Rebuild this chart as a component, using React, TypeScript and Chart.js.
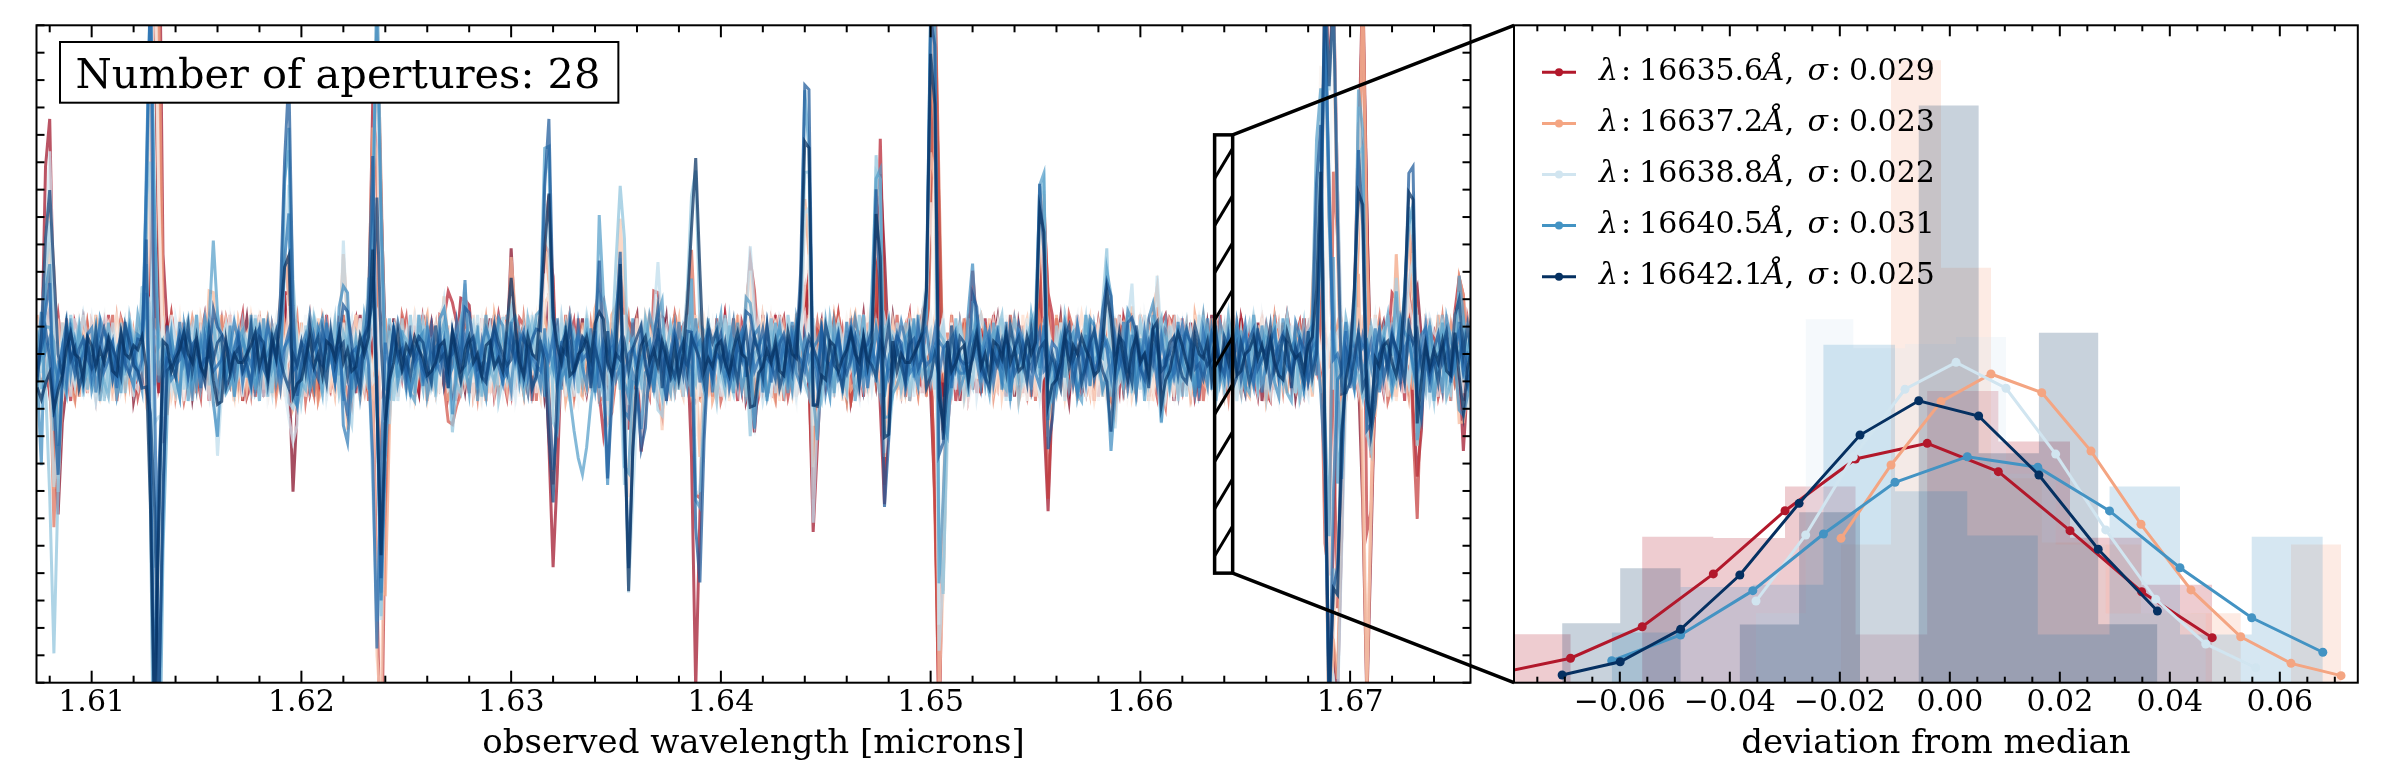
import React, { useEffect, useRef } from "react";
import { Chart, registerables } from "chart.js";

Chart.register(...registerables);

const FONT = "'DejaVu Serif', 'Liberation Serif', serif";

// ---------------- Left panel: residual spectra of the apertures ----------------
const WL_START = 1.6074; // microns, first pixel
const WL_STEP = 0.0002; // microns per pixel
const N_PIX = 343;
const N_APERTURES = 28;
const LEFT_X_MIN = 1.60737;
const LEFT_X_MAX = 1.67574;
const LEFT_Y_MIN = -0.6;
const LEFT_Y_MAX = 0.6;
const LEFT_X_TICKS = [1.61, 1.62, 1.63, 1.64, 1.65, 1.66, 1.67];
const ZOOM_WL = [1.66354, 1.6644];
const ZOOM_RESID = [-0.4, 0.4];
const APERTURE_LABEL = "Number of apertures: 28";
const LEFT_TITLE = "observed wavelength [microns]";

// hand-estimated pixel noise (letter 'i' = 0, one letter step = NOISE_UNIT)
const NOISE_UNIT = 0.013;
const NOISE_BANK = [
  "hkfjmdiglein khcjmfgkje lhgnidkfhm jelgichkfm hjdlgiejnh fkcmiglhje kfingdljhk meigfjhldg jkenhifmcj glhkeijgmh djlkfinehg jldkmfihjc gkmelfhind jgkelihfkj dmhgilejnf hkcjgmiehl kdjfnighme jkclhfg",
  "jgemhkdiln fhjcgkmieh ljdgnkfhim ejgklchfin dhmjegilkf hdjmgiekhl cfjnhgdkmi ejlhfgknjd imgehlcjkf ndhgimjekl fhdgjmkiel hgcjnfdkhm iljegkhfdn jmigelkchj fmdhkgnije lhjfdkgmch ilejnkfgdh m",
  "kfhdjmglie nhjcfkgmdi ljhenkgfci mjdlhgekin fjgdmhklce ijfhnglkdj mhecigkfnj lhdmgjkeif clnhjdgkmi fhejlkgdnh icmjfgklhe djnkighmfl jcekhdgmji nfhlkcjgdm eihkfjlngd hmcjgeikfl jhdnkmg",
  "giknfjdmhl egjkchmfid lkhngjefmi dkhjlcgnfk imjhdegklf nhcjmgidkl fhejnkgdmi hlcjfkgnde ijmhkflgdc njhiekmgjf lhdkcingjm ehfklgdjni hcmkfjgled nihkjmfgdc lkehjnigmf dkhjcleig",
  "lhdjkfmgie cnhjkgdlmf iehkjcngdl fmihekjdgn lkhcfjmigd nkhejglfcm idhjnkfgle mchkijdgnf lehjkmcgid flnhjekgmd ichljfkngm ehdjiklcfg nmhdjegkil fcjhnmgdke ilhfkcjgnd mehkj",
  "fjlhdmkgie nchjgklfdm ihejnkgcfl dmhjkiegnf lchdjmkgie fnhlkjcgdm ihekfnjlgd mchkijegfn ldhjkcmgie fnhdljkgmc ihejnfkgdl mchijkegnf dlhjkmcgie fnhljdkgmi chejnkfgdl mhikjcegf",
];
const NOISE_OFFSET = [0, 37, 71, 113, 19, 151, 88, 127, 54, 9, 166, 93, 31, 142, 66, 105, 172, 13, 79, 121, 46, 158, 24, 97, 135, 61, 3, 110];
const NOISE_AMP = [1.0, 1.1, 1.0, 1.1, 1.0, 1.1, 1.0, 1.0, 1.1, 1.0, 1.0, 1.1, 1.0, 1.0, 1.1, 1.0, 1.0, 1.1, 1.0, 1.1, 1.0, 1.1, 1.0, 0.9, 0.8, 0.7, 0.8, 0.6];

// spectral-line residuals: [pixel, amplitude per aperture]  ('.'=0, A..Z = +0.025..+0.65, a..z negative)
// groups: 7 red | 5 peach | 4 white | 4 light blue | 4 mid blue | 4 dark blue
const FEATURES: [number, string][] = [
  [1, "....... ..... .... .c.. d.e. ...c"],
  [2, "..D.B.. B.C.. .... B.C. .B.C ..B."],
  [3, "E.S.H.F J.F.G .E.D N.H. F.J. H.L."],
  [4, "..f.h.n .g... ..d. .h.w h.f. f..e"],
  [5, ".n...e. ..f.. .... ..h. .e.. .g.."],
  [26, "...B..C .C... .... .D.E .F.D .H.."],
  [27, ".D.I.K. .H.N. .E.. P.Z. Z.Z. Z.f."],
  [28, "Z.Z.Z.Z .Z.Z. .Z.. z.z. .z.z .z.z"],
  [29, "..Z.M.. .Q... .... .d.. .z.. z.w."],
  [30, "f...e.. .d... .... ..c. .d.. ..b."],
  [42, "....D.. ..E.. .... ..E. .F.. .D.."],
  [43, "..c.... ...d. .... .d.. ..e. ...d"],
  [59, "..B..B. .C.C. ..B. .C.D .E.D .G.D"],
  [60, ".G.H.F. .H.F. .E.. .J.O .P.L .R.I"],
  [61, ".n...e. .f... .e.. i.e. .h.f .d.g"],
  [73, "..D.... .E... .... .F.. ..F. .E.."],
  [74, "....d.. ..e.. .... ..e. ...f d..."],
  [80, "..F.D.. .E.D. .D.. .F.H .J.H .M.G"],
  [81, "Z.Z.h.Z .Z.s. .Z.. Z.s. Z.Z. s.K."],
  [82, "..z.z.. .z.r. .q.. .t.r .r.r .p.o"],
  [83, "...e... .f... .... ..f. ..e. ..d."],
  [98, "...H... ..D.. .... .D.. ..C. ...."],
  [99, ".....h. ..e.. .... ...d ..c. ...."],
  [102, "..E.... ...D. .... .D.. ...D .C.."],
  [113, ".F..... ..E.. .... ..D. .D.. ...D"],
  [121, "...D.E. .E... .D.. .F.G .H.. .G.F"],
  [122, ".E.G.I. .I.H. .F.. .K.N .S.. .N.I"],
  [123, "..n.i.. .i.h. .g.. .h.j .i.h ..j."],
  [134, "..C.... .D.D. .C.. .D.E .I.. .E.D"],
  [136, "...f.e. ..g.. .e.. .f.. ..h. .h.."],
  [139, "..D.E.. .F.E. .D.. .G.N .K.. .F.E"],
  [140, ".F.d.G. .e.G. .e.. ..h. .f.. ...."],
  [141, "..e..f. .e.f. .f.. .r.. .h.g .p.q"],
  [144, "..d.... ..c.. .... .e.. ..f. .h.."],
  [148, ".D..E.. ..D.. .... .E.. .D.. .E.."],
  [149, "..d...c ...d. .... ..e. ..d. .d.."],
  [156, "...D..E .D.E. .D.. .E.F .G.. .F.E"],
  [157, "..x.e.. .g.e. .e.. .f.K .h.. .k.L"],
  [158, ".f..h.. ..g.. .... .g.. .h.. .m.."],
  [170, "....I.. .E... .D.. .E.f .F.. .E.."],
  [171, ".d.e... ..d.. .... ..f. ..g. ...e"],
  [183, "..D.E.. .F.E. .E.. .G.H .J.. .L.J"],
  [184, ".F.I.G. .I.H. .G.. .K.P .P.. .T.M"],
  [185, "..m.h.. .i.g. .g.. .o.i .j.. .k.h"],
  [200, "..E.F.. .G.F. .E.. .G.H .H.. .G.F"],
  [201, ".L.N.I. .J.I. .G.. .M.L .L.. .H.I"],
  [202, "..l.h.. .i.h. .f.. .i.k .j.. .n.j"],
  [213, "..H.J.. .K.J. .I.. .L.M .O.. .P.N"],
  [214, "Z.Z.J.Z .Z.Q. .M.. .Z.Z .Z.. .W.S"],
  [215, ".z.z.z. .z.z. .z.. .z.v .z.. .r.l"],
  [216, "..f.g.. .g.f. .... .h.g ..g. ..e."],
  [223, "..D..E. .D... .... .E.. ..D. .D.."],
  [239, "..D.F.. .F.E. .E.. .G.H .I.. .G.F"],
  [240, ".G.N.J. .K.J. .H.. .K.N .N.. .I.J"],
  [241, "..l.i.. .j.i. .g.. .i.j .k.. .l.h"],
  [255, "..C.D.. .F.D. .C.. .E.F .E.. .F.D"],
  [256, ".d..e.. .g... .... .e.. ..e. ..d."],
  [261, "...C... ..D.. .... .D.. ..D. .C.."],
  [267, "...D.E. .F.D. .... .D.. ..D. ...C"],
  [268, "..e..d. ..f.. .... ..d. ..d. ...d"],
  [305, "...C.D. .D... .D.. .E.. .F.. .E.."],
  [306, ".H.K..L .N.J. .H.. .L.O .Q.. .N.M"],
  [307, "Z.Z.Z.. Z.Z.. .Z.. Z.Z. Z.Z. Z.Z."],
  [308, ".z.z.z. .z.z. .z.. .z.z .z.z .z.z"],
  [309, "..Z..Z. ..Z.. ..Z. ..Z. .Z.. ..Z."],
  [310, ".z..q.. .z.q. .... .z.p .q.. .q.p"],
  [311, "...e.f. ..g.. .... .e.. ..f. ..e."],
  [315, "..E.F.. .G.F. .E.. .H.I .J.. .I.H"],
  [316, "Z.Z.Z.. Z.Z.. .P.. .R.N .S.. .L.K"],
  [317, ".z..z.. .z.z. .j.. .l.l .k.. .j.i"],
  [318, "..f..g. ..f.. .... ..f. ..e. ..e."],
  [324, "...D... .E... .... ..D. .D.. ...."],
  [327, "..C.D.. .D.D. .C.. .E.F .F.. .H.G"],
  [328, ".E.F.G. .I.G. .F.. .G.I .J.. .M.L"],
  [329, "..j.k.. .h.g. .f.. .g.h .h.. .i.h"],
  [339, "...E.E. .E... .D.. ..D. .D.. ..D."],
  [340, "..e.... ..f.. .... .d.. ..e. ...d"],
];
// relative line-profile weight at pixel offsets -1, 0, +1
const LINE_PROFILE = [0.4, 1, 0.4];
const DIP_APERTURE = 21;
const DIP_START = 126;
const DIP_VALUES = [-0.03, -0.08, -0.14, -0.19, -0.22, -0.17, -0.09, -0.03];

// ---------------- Right panel: deviation histograms ----------------
const N_HIST = 28;
const HIST_WAVELENGTHS = ["16635.6", "16637.2", "16638.8", "16640.5", "16642.1"];
const HIST_SIGMAS = ["0.029", "0.023", "0.022", "0.031", "0.025"];
const EDGES_1 = [-0.08196, -0.06896, -0.05593, -0.043, -0.02996, -0.01715, -0.00411, 0.00882, 0.02185, 0.03487, 0.04771];
const COUNTS_1 = [1, 0, 3, 3, 4, 1, 6, 5, 3, 2];
const CURVE_1 = [0.55, 1.39, 3.18, 6.18, 9.77, 12.71, 13.6, 11.99, 8.64, 5.17, 2.56];
const EDGES_2 = [-0.01978, -0.01069, -0.0016, 0.00749, 0.01671, 0.02567, 0.03476, 0.04385, 0.05289, 0.06204, 0.07113];
const COUNTS_2 = [2, 9, 6, 3, 2, 2, 1, 1, 0, 2];
const CURVE_2 = [8.2, 12.37, 15.97, 17.54, 16.48, 13.16, 9.0, 5.27, 2.61, 1.1, 0.4];
const EDGES_3 = [-0.03524, -0.0262, -0.01755, -0.00815, 0.00113, 0.01022, 0.01925, 0.02835, 0.03744, 0.04653, 0.05562];
const COUNTS_3 = [1, 5, 5, 5, 5, 3, 2, 1, 1, 0];
const CURVE_3 = [4.64, 8.39, 12.84, 16.67, 18.2, 16.73, 12.99, 8.68, 4.74, 2.2, 0.85];
const EDGES_4 = [-0.06147, -0.04895, -0.03582, -0.02298, -0.00996, 0.00318, 0.016, 0.02904, 0.04185, 0.05489, 0.06782];
const COUNTS_4 = [1, 2, 2, 7, 4, 3, 1, 4, 1, 3];
const CURVE_4 = [1.25, 2.71, 5.23, 8.45, 11.39, 12.84, 12.24, 9.76, 6.53, 3.69, 1.73];
const EDGES_5 = [-0.07049, -0.05993, -0.04895, -0.03818, -0.0274, -0.01633, -0.00565, 0.00524, 0.0162, 0.02698, 0.03775];
const COUNTS_5 = [1, 2, 0, 1, 3, 0, 10, 4, 6, 1];
const CURVE_5 = [0.44, 1.19, 3.03, 6.12, 10.19, 14.07, 16.02, 15.15, 11.8, 7.58, 4.07];
const RIGHT_X_MIN = -0.07924;
const RIGHT_X_MAX = 0.07418;
const RIGHT_Y_MAX = 37.35;
const RIGHT_X_TICKS = [-0.06, -0.04, -0.02, 0.0, 0.02, 0.04, 0.06];
const RIGHT_TITLE = "deviation from median";

// ---------------- styling helpers ----------------
const RDBU = ["#67001f", "#b2182b", "#d6604d", "#f4a582", "#fddbc7", "#f7f7f7", "#d1e5f0", "#92c5de", "#4393c3", "#2166ac", "#053061"];
const HIST_COLORS = ["#b2182b", "#f4a582", "#d1e5f0", "#4393c3", "#053061"];
const RIGHT_CANVAS_LEFT = 1500;

function hexRgb(h: string) {
  return [parseInt(h.slice(1, 3), 16), parseInt(h.slice(3, 5), 16), parseInt(h.slice(5, 7), 16)];
}
function rdbu(t: number) {
  const p = Math.max(0, Math.min(1, t)) * 10;
  const i = Math.min(9, Math.floor(p));
  const f = p - i;
  const a = hexRgb(RDBU[i]);
  const b = hexRgb(RDBU[i + 1]);
  return [0, 1, 2].map((c) => Math.round(a[c] + (b[c] - a[c]) * f));
}
function rgba(c: number[], a: number) {
  return `rgba(${c[0]},${c[1]},${c[2]},${a})`;
}
function ampOf(ch: string) {
  if (ch === ".") return 0;
  const code = ch.charCodeAt(0);
  if (code >= 65 && code <= 90) return (code - 64) * 0.025;
  return -(code - 96) * 0.025;
}

function buildSpectra() {
  const wl: number[] = [];
  for (let k = 0; k < N_PIX; k++) wl.push(WL_START + k * WL_STEP);
  const bank = NOISE_BANK.map((s) => s.replace(/\s/g, ""));
  const spectra: number[][] = [];
  for (let i = 0; i < N_APERTURES; i++) {
    const b = bank[i % bank.length];
    const vals: number[] = [];
    for (let k = 0; k < N_PIX; k++) {
      const ch = b.charCodeAt((k + NOISE_OFFSET[i]) % b.length);
      vals.push((ch - 105) * NOISE_UNIT * NOISE_AMP[i]);
    }
    spectra.push(vals);
  }
  for (const [k, s] of FEATURES) {
    const str = s.replace(/\s/g, "");
    for (let i = 0; i < N_APERTURES; i++) {
      const amp = ampOf(str[i] || ".");
      if (!amp) continue;
      LINE_PROFILE.forEach((wgt, d) => {
        const kk = k + d - 1;
        if (kk >= 0 && kk < N_PIX) spectra[i][kk] += amp * wgt;
      });
    }
  }
  DIP_VALUES.forEach((v, j) => {
    spectra[DIP_APERTURE][DIP_START + j] = v;
  });
  return { wl, spectra };
}

function drawTick(ctx: CanvasRenderingContext2D, x: number, y: number, dx: number, dy: number) {
  ctx.beginPath();
  ctx.moveTo(x, y);
  ctx.lineTo(x + dx, y + dy);
  ctx.stroke();
}

export default function App() {
  const leftRef = useRef<HTMLCanvasElement>(null);
  const rightRef = useRef<HTMLCanvasElement>(null);

  useEffect(() => {
    if (!leftRef.current || !rightRef.current) return;

    // ---------- right chart ----------
    const histEdges = [EDGES_1, EDGES_2, EDGES_3, EDGES_4, EDGES_5];
    const histCounts = [COUNTS_1, COUNTS_2, COUNTS_3, COUNTS_4, COUNTS_5];
    const histCurves = [CURVE_1, CURVE_2, CURVE_3, CURVE_4, CURVE_5];
    const rightDatasets: any[] = [];
    histEdges.forEach((edges, s) => {
      const dens = histCounts[s].map((c, j) => c / (N_HIST * (edges[j + 1] - edges[j])));
      const pts = dens.map((h, j) => ({ x: edges[j], y: h }));
      pts.push({ x: edges[edges.length - 1], y: dens[dens.length - 1] });
      rightDatasets.push({
        label: "hist " + HIST_WAVELENGTHS[s],
        data: pts,
        stepped: "before",
        fill: "origin",
        backgroundColor: rgba(hexRgb(HIST_COLORS[s]), 0.22),
        borderColor: "rgba(0,0,0,0)",
        borderWidth: 0,
        pointRadius: 0,
        order: 10 + (4 - s),
      });
    });
    histEdges.forEach((edges, s) => {
      rightDatasets.push({
        label: HIST_WAVELENGTHS[s],
        data: edges.map((e, j) => ({ x: e, y: histCurves[s][j] })),
        borderColor: HIST_COLORS[s],
        backgroundColor: HIST_COLORS[s],
        borderWidth: 3,
        pointRadius: 4.5,
        pointBorderWidth: 0,
        pointBackgroundColor: HIST_COLORS[s],
        fill: false,
        order: 4 - s,
      });
    });

    const rightDecor = {
      id: "rightDecor",
      afterDatasetsDraw(chart: any) {
        const { ctx, chartArea: a, scales } = chart;
        const x = scales.x;
        ctx.save();
        ctx.strokeStyle = "#000";
        ctx.lineWidth = 2;
        for (const v of RIGHT_X_TICKS) {
          const px = x.getPixelForValue(v);
          drawTick(ctx, px, a.bottom, 0, -11);
          drawTick(ctx, px, a.top, 0, 11);
        }
        for (let m = Math.ceil(RIGHT_X_MIN / 0.005); m * 0.005 <= RIGHT_X_MAX; m++) {
          if (m % 4 === 0) continue;
          const px = x.getPixelForValue(m * 0.005);
          drawTick(ctx, px, a.bottom, 0, -6);
          drawTick(ctx, px, a.top, 0, 6);
        }
        ctx.strokeRect(a.left, a.top, a.right - a.left, a.bottom - a.top);

        // legend
        const reg = `30px ${FONT}`;
        const ital = `italic 30px ${FONT}`;
        HIST_WAVELENGTHS.forEach((wl, r) => {
          const yMid = a.top + 47 + r * 51.1;
          ctx.strokeStyle = HIST_COLORS[r];
          ctx.fillStyle = HIST_COLORS[r];
          ctx.lineWidth = 3;
          ctx.beginPath();
          ctx.moveTo(a.left + 28, yMid);
          ctx.lineTo(a.left + 62, yMid);
          ctx.stroke();
          ctx.beginPath();
          ctx.arc(a.left + 45, yMid, 4, 0, Math.PI * 2);
          ctx.fill();
          const parts: [string, string, number][] = [
            [ital, "λ", 3],
            [reg, ":", 8],
            [reg, wl, 0],
            [ital, "Å", 0],
            [reg, ",", 13],
            [ital, "σ", 3],
            [reg, ":", 8],
            [reg, HIST_SIGMAS[r], 0],
          ];
          ctx.fillStyle = "#000";
          ctx.textBaseline = "middle";
          ctx.textAlign = "left";
          let cx = a.left + 85;
          for (const [f, t, gap] of parts) {
            ctx.font = f;
            ctx.fillText(t, cx, yMid);
            cx += ctx.measureText(t).width + gap;
          }
        });
        ctx.restore();
      },
    };

    const right = new Chart(rightRef.current, {
      type: "line",
      data: { datasets: rightDatasets },
      options: {
        animation: false,
        responsive: false,
        maintainAspectRatio: false,
        devicePixelRatio: 1,
        events: [],
        layout: { padding: { left: 14, right: 27.2, top: 25.3, bottom: 0 } },
        plugins: { legend: { display: false }, tooltip: { enabled: false } },
        scales: {
          x: {
            type: "linear",
            min: RIGHT_X_MIN,
            max: RIGHT_X_MAX,
            afterBuildTicks: (s: any) => {
              s.ticks = RIGHT_X_TICKS.map((v) => ({ value: v }));
            },
            afterFit: (s: any) => {
              s.height = 98.3;
            },
            grid: { display: false, drawTicks: false },
            border: { display: false },
            ticks: {
              color: "#000",
              font: { family: FONT, size: 30 },
              padding: 3,
              maxRotation: 0,
              autoSkip: false,
              callback: (v: any) => (Number(v) < -1e-9 ? "\u2212" + Math.abs(Number(v)).toFixed(2) : Math.abs(Number(v)).toFixed(2)),
            },
            title: {
              display: true,
              text: RIGHT_TITLE,
              color: "#000",
              font: { family: FONT, size: 34 },
              padding: { top: 0, bottom: 16 },
            },
          },
          y: { type: "linear", display: false, min: 0, max: RIGHT_Y_MAX },
        },
      },
      plugins: [rightDecor],
    } as any);

    const ra = right.chartArea;
    const target = { left: ra.left + RIGHT_CANVAS_LEFT, top: ra.top, bottom: ra.bottom };

    // ---------- left chart ----------
    const { wl, spectra } = buildSpectra();
    const leftDatasets = spectra.map((vals, i) => ({
      label: "aperture " + (i + 1),
      data: vals.map((v, k) => ({ x: wl[k], y: v })),
      borderColor: rgba(rdbu(i / (N_APERTURES - 1)), 0.72),
      borderWidth: 3,
      pointRadius: 0,
      fill: false,
      order: N_APERTURES - 1 - i,
    }));

    const leftDecor = {
      id: "leftDecor",
      afterDatasetsDraw(chart: any) {
        const { ctx, chartArea: a, scales } = chart;
        const x = scales.x;
        const y = scales.y;
        ctx.save();
        ctx.strokeStyle = "#000";
        ctx.lineWidth = 2;
        for (const v of LEFT_X_TICKS) {
          const px = x.getPixelForValue(v);
          drawTick(ctx, px, a.bottom, 0, -12);
          drawTick(ctx, px, a.top, 0, 12);
        }
        for (let m = Math.ceil(LEFT_X_MIN / 0.002); m * 0.002 <= LEFT_X_MAX; m++) {
          if (m % 5 === 0) continue;
          const px = x.getPixelForValue(m * 0.002);
          drawTick(ctx, px, a.bottom, 0, -7);
          drawTick(ctx, px, a.top, 0, 7);
        }
        for (let m = Math.round(LEFT_Y_MIN / 0.05); m <= Math.round(LEFT_Y_MAX / 0.05); m++) {
          const py = y.getPixelForValue(m * 0.05);
          drawTick(ctx, a.left, py, 8, 0);
          drawTick(ctx, a.right, py, -8, 0);
        }
        ctx.strokeRect(a.left, a.top, a.right - a.left, a.bottom - a.top);

        // aperture count box
        ctx.font = `41.5px ${FONT}`;
        const tw = ctx.measureText(APERTURE_LABEL).width;
        const bx = a.left + 23.5;
        const by = a.top + 16.7;
        ctx.fillStyle = "#fff";
        ctx.fillRect(bx, by, tw + 33.5, 60.7);
        ctx.lineWidth = 2;
        ctx.strokeRect(bx, by, tw + 33.5, 60.7);
        ctx.fillStyle = "#000";
        ctx.textBaseline = "alphabetic";
        ctx.textAlign = "left";
        ctx.fillText(APERTURE_LABEL, bx + 15.5, by + 46.3);

        // hatched zoom window
        const rx0 = x.getPixelForValue(ZOOM_WL[0]);
        const rx1 = x.getPixelForValue(ZOOM_WL[1]);
        const rt = y.getPixelForValue(ZOOM_RESID[1]);
        const rb = y.getPixelForValue(ZOOM_RESID[0]);
        const w = rx1 - rx0;
        ctx.save();
        ctx.beginPath();
        ctx.rect(rx0, rt, w, rb - rt);
        ctx.clip();
        ctx.lineWidth = 3;
        for (let j = -2; j < 14; j++) {
          const yl = rt + 43.6 + j * 47.2;
          ctx.beginPath();
          ctx.moveTo(rx0, yl);
          ctx.lineTo(rx1, yl - 1.67 * w);
          ctx.stroke();
        }
        ctx.restore();
        ctx.lineWidth = 3.5;
        ctx.strokeRect(rx0, rt, w, rb - rt);

        // connectors to the zoom panel
        ctx.beginPath();
        ctx.moveTo(rx1, rt);
        ctx.lineTo(target.left, target.top);
        ctx.moveTo(rx1, rb);
        ctx.lineTo(target.left, target.bottom);
        ctx.stroke();
        ctx.restore();
      },
    };

    const left = new Chart(leftRef.current, {
      type: "line",
      data: { datasets: leftDatasets },
      options: {
        animation: false,
        responsive: false,
        maintainAspectRatio: false,
        devicePixelRatio: 1,
        events: [],
        layout: { padding: { left: 36.5, right: 914.5, top: 25.3, bottom: 0 } },
        plugins: { legend: { display: false }, tooltip: { enabled: false } },
        scales: {
          x: {
            type: "linear",
            min: LEFT_X_MIN,
            max: LEFT_X_MAX,
            afterBuildTicks: (s: any) => {
              s.ticks = LEFT_X_TICKS.map((v) => ({ value: v }));
            },
            afterFit: (s: any) => {
              s.height = 98.3;
            },
            grid: { display: false, drawTicks: false },
            border: { display: false },
            ticks: {
              color: "#000",
              font: { family: FONT, size: 30 },
              padding: 3,
              maxRotation: 0,
              autoSkip: false,
              callback: (v: any) => Number(v).toFixed(2),
            },
            title: {
              display: true,
              text: LEFT_TITLE,
              color: "#000",
              font: { family: FONT, size: 34 },
              padding: { top: 0, bottom: 16 },
            },
          },
          y: { type: "linear", display: false, min: LEFT_Y_MIN, max: LEFT_Y_MAX },
        },
      },
      plugins: [leftDecor],
    } as any);

    return () => {
      left.destroy();
      right.destroy();
    };
  }, []);

  return (
    <div style={{ position: "fixed", left: 0, top: 0, width: 2385, height: 781, background: "#fff" }}>
      <canvas ref={leftRef} width={2385} height={781} style={{ position: "absolute", left: 0, top: 0, width: 2385, height: 781 }} />
      <canvas
        ref={rightRef}
        width={885}
        height={781}
        style={{ position: "absolute", left: RIGHT_CANVAS_LEFT, top: 0, width: 885, height: 781 }}
      />
    </div>
  );
}
